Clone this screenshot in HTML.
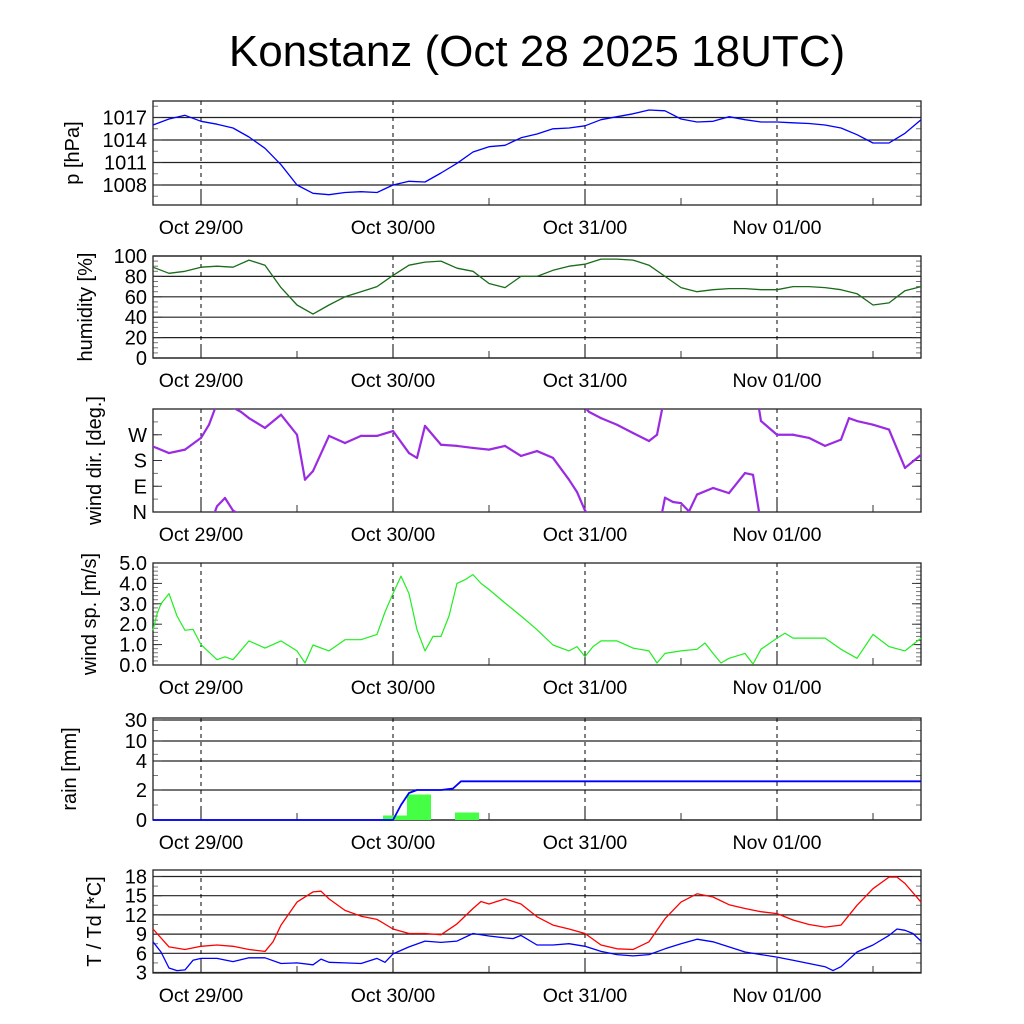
<!DOCTYPE html>
<html><head><meta charset="utf-8"><style>
body{margin:0;background:#fff;}
svg{display:block;font-family:"Liberation Sans",sans-serif;}
</style></head><body>
<svg id="chart" width="1024" height="1024" viewBox="0 0 1024 1024" xmlns="http://www.w3.org/2000/svg">
<rect width="1024" height="1024" fill="#fff"/>
<text x="537" y="66" font-size="44" text-anchor="middle">Konstanz (Oct 28 2025 18UTC)</text>
<g id="plots"></g>
</svg>
<script>
const dayLabels = ["Oct 29/00","Oct 30/00","Oct 31/00","Nov 01/00"];
const dayHours = [6,30,54,78];
const presH = [0,2,4,6,8,10,12,14,16,18,20,22,24,26,28,30,32,34,36,38,40,42,44,46,48,50,52,54,56,58,60,62,64,66,68,70,72,74,76,78,80,82,84,86,88,90,92,94,96];
const presV = [1016,1016.8,1017.3,1016.5,1016.1,1015.6,1014.4,1012.9,1010.7,1008,1006.9,1006.7,1007,1007.1,1007,1008,1008.5,1008.4,1009.6,1010.9,1012.4,1013.1,1013.3,1014.3,1014.8,1015.5,1015.6,1015.9,1016.7,1017.1,1017.5,1018,1017.9,1016.8,1016.4,1016.5,1017.1,1016.7,1016.4,1016.4,1016.3,1016.2,1016,1015.6,1014.7,1013.6,1013.6,1014.9,1016.7];
const humH = [0,2,4,6,8,10,12,14,16,18,20,22,24,26,28,30,32,34,36,38,40,42,44,46,48,50,52,54,56,58,60,62,64,66,68,70,72,74,76,78,80,82,84,86,88,90,92,94,96];
const humV = [89,83,85,89,90,89,96,91,69,52,43,52,60,65,70,81,91,94,95,88,85,73,69,80,80,86,90,92,97,97,96,91,80,69,65,67,68,68,67,67,70,70,69,67,63,52,54,66,70];
const dirH = [0,2,4,6,7,8,9,10,11,12,14,16,18,19,20,22,24,26,28,30,32,33,34,36,38,40,42,44,46,48,50,52,53,54,54.5,56,58,60,62,63,64,65,66,67,68,70,72,74,75,76,78,80,82,84,86,87,88,90,92,94,96];
const dirV = [229,206,218,259,305,20,49,5,350,328,294,340,270,113,143,266,241,266,266,283,206,189,301,235,231,224,218,231,196,213,189,113,70,5,350,328,305,276,248,270,50,35,31,2,61,84,66,136,130,318,270,270,259,231,253,328,318,305,288,154,200];
const spdH = [0,0.5,1,2,3,4,5,6,8,9,10,12,14,16,18,19,20,22,24,26,28,29,30,31,32,33,34,35,36,37,38,39,40,41,42,44,46,48,50,52,53,54,55,56,58,60,62,63,64,66,68,69,70,71,72,74,75,76,78,79,80,84,86,88,90,92,94,96];
const spdV = [1.7,2.5,3.0,3.5,2.4,1.7,1.75,1.0,0.26,0.4,0.26,1.18,0.83,1.18,0.69,0.1,0.98,0.69,1.24,1.24,1.5,2.6,3.5,4.36,3.5,1.73,0.69,1.4,1.4,2.4,4.0,4.18,4.43,4.0,3.7,3.04,2.4,1.73,0.98,0.69,0.9,0.41,0.9,1.18,1.18,0.83,0.69,0.1,0.57,0.69,0.77,1.08,0.57,0.1,0.33,0.57,0.05,0.77,1.32,1.56,1.32,1.32,0.77,0.33,1.5,0.9,0.69,1.32];
const rainCumH = [0,30,31,32,33,36,37.5,38.5,96];
const rainCumV = [0,0,1.0,1.8,2.0,2.0,2.1,2.6,2.6];
const rainBarStart = [28.75,31.75,37.75];
const rainBarV = [0.3,1.7,0.5];
const tH = [0,2,4,6,8,10,12,14,15,16,18,20,21,22,24,26,28,30,32,34,36,38,40,41,42,44,46,48,50,52,54,56,58,60,62,64,66,68,70,72,74,76,78,80,82,84,86,88,90,92,93,94,96];
const tV = [9.8,7.0,6.6,7.1,7.3,7.1,6.6,6.3,7.8,10.4,14.0,15.6,15.7,14.5,12.7,11.8,11.3,9.8,9.1,9.1,8.9,10.6,13.0,14.1,13.7,14.5,13.7,11.7,10.4,9.8,9.1,7.3,6.7,6.6,7.8,11.4,14.0,15.3,14.8,13.6,13.0,12.5,12.2,11.2,10.5,10.1,10.4,13.5,16.1,17.9,17.9,16.9,14.0];
const tdH = [0,1,2,3,4,5,6,8,10,12,14,16,18,20,21,22,24,26,28,29,30,32,34,36,38,40,42,44,45,46,48,50,52,54,56,58,60,62,64,66,68,70,72,74,76,78,80,82,84,85,86,88,90,92,93,94,95,96];
const tdV = [7.8,6.2,3.7,3.3,3.4,4.9,5.2,5.2,4.7,5.3,5.3,4.4,4.5,4.2,5.1,4.6,4.5,4.4,5.2,4.6,5.9,7.0,7.9,7.7,7.9,9.1,8.7,8.4,8.3,8.8,7.3,7.3,7.5,7.1,6.3,5.8,5.6,5.8,6.7,7.5,8.2,7.8,7.0,6.2,5.8,5.4,4.9,4.4,3.9,3.3,3.9,6.2,7.3,8.8,9.8,9.6,9.1,7.9];

const NS="http://www.w3.org/2000/svg";
const root=document.getElementById('plots');
const X0=153, X1=921, HMAX=96;
function xs(h){return X0+(X1-X0)*h/HMAX;}
function mk(tag,attrs,parent){const e=document.createElementNS(NS,tag);for(const k in attrs)e.setAttribute(k,attrs[k]);(parent||root).appendChild(e);return e;}

function panel(name,top,bot,ylab,labX,yfn,majors,majorLabels,minors,grid){
  const g=mk('g',{});
  
  
  if(grid){majors.forEach(v=>{const l=mk('line',{x1:X0,x2:X1,y1:yfn(v),y2:yfn(v),stroke:'#222','stroke-width':1.2},g);
    
    });}
  minors.forEach(v=>{const y=yfn(v);mk('line',{x1:X0,x2:X0+5,y1:y,y2:y,stroke:'#777'},g);mk('line',{x1:X1-5,x2:X1,y1:y,y2:y,stroke:'#777'},g);});
  majors.forEach((v,i)=>{const y=yfn(v);mk('line',{x1:X0,x2:X0+9,y1:y,y2:y,stroke:'#333'},g);mk('line',{x1:X1-9,x2:X1,y1:y,y2:y,stroke:'#333'},g);
    const t=mk('text',{x:147,y:y+7,'font-size':20,'text-anchor':'end'},g);t.textContent=majorLabels[i];
    
    });
  dayHours.forEach((h,i)=>{const x=xs(h);
    mk('line',{x1:x,x2:x,y1:top,y2:bot-12,stroke:'#000','stroke-dasharray':'4,4'},g);
    mk('line',{x1:x,x2:x,y1:bot-12,y2:bot,stroke:'#000'},g);
    const t=mk('text',{x:x,y:bot+29,'font-size':19.5,'text-anchor':'middle'},g);t.textContent=dayLabels[i];
    
    });
  [18,42,66,90].forEach(h=>{const x=xs(h);mk('line',{x1:x,x2:x,y1:bot-7,y2:bot,stroke:'#333'},g);});
  mk('rect',{x:X0,y:top,width:X1-X0,height:bot-top,fill:'none',stroke:'#222','stroke-width':1.3},g);
  const cy=(top+bot)/2;
  const t=mk('text',{x:labX,y:cy,'font-size':20,'text-anchor':'middle',transform:`rotate(-90 ${labX} ${cy})`},g);
  t.textContent=ylab;
  
  
  return g;
}
function line(g,H,V,yfn,color,name,w){
  const d=H.map((h,i)=>(i?'L':'M')+xs(h).toFixed(1)+','+yfn(V[i]).toFixed(1)).join('');
  const p=mk('path',{d:d,fill:'none',stroke:color,'stroke-width':w||1.3,'stroke-linejoin':'round'},g);
  
  
}
function rng(a,b,s){const r=[];for(let v=a;v<=b+1e-9;v+=s)r.push(+v.toFixed(3));return r;}

{const top=101,bot=205,y=v=>185-(v-1008)*7.5;
 const g=panel('pressure',top,bot,'p [hPa]',79,y,[1008,1011,1014,1017],['1008','1011','1014','1017'],rng(1006.5,1018.5,1.5),true);
 line(g,presH,presV,y,'#0000ff','pressure-line');}
{const top=256,bot=358,y=v=>358-v*1.02;
 const g=panel('humidity',top,bot,'humidity [%]',92,y,[0,20,40,60,80,100],['0','20','40','60','80','100'],rng(0,100,5),true);
 line(g,humH,humV,y,'#1a6b1a','humidity-line');}
{const top=409,bot=512,y=v=>512-v*103/360;
 const g=panel('wind-dir',top,bot,'wind dir. [deg.]',101,y,[0,90,180,270],['N','E','S','W'],rng(45,315,45),false);
 const cp=mk('clipPath',{id:'wdclip'},g);mk('rect',{x:X0,y:top,width:X1-X0,height:bot-top},cp);
 const wg=mk('g',{'clip-path':'url(#wdclip)'},g);
 
 
 for(let i=1;i<dirH.length;i++){
   const a=dirV[i-1],b=dirV[i],x1=xs(dirH[i-1]),x2=xs(dirH[i]);
   let segs=[[a,b]];
   if(b-a>180)segs=[[a,b-360],[a+360,b]];else if(a-b>180)segs=[[a,b+360],[a-360,b]];
   segs.forEach(s=>mk('line',{x1:x1,y1:y(s[0]),x2:x2,y2:y(s[1]),stroke:'#9a2be2','stroke-width':2.2,'stroke-linecap':'round'},wg));
 }}
{const top=563,bot=665,y=v=>665-v*20.4;
 const g=panel('wind-speed',top,bot,'wind sp. [m/s]',96,y,[0,1,2,3,4,5],['0.0','1.0','2.0','3.0','4.0','5.0'],rng(0,5,0.2),false);
 line(g,spdH,spdV,y,'#22ee22','wind-speed-line',1.2);}
{const top=718,bot=820;
 const pv=[0,2,4,10,30,40],py=[820,790,761,741,720,713];
 const y=v=>{for(let i=1;i<pv.length;i++){if(v<=pv[i])return py[i-1]+(py[i]-py[i-1])*(v-pv[i-1])/(pv[i]-pv[i-1]);}return py[py.length-1];};
 const g=panel('rain',top,bot,'rain [mm]',76,y,[0,2,4,10,30],['0','2','4','10','30'],[1,3,6,20],true);
 rainBarStart.forEach((h,i)=>{const r=mk('rect',{x:xs(h),y:y(rainBarV[i]),width:xs(h+3)-xs(h),height:bot-y(rainBarV[i]),fill:'#44ff44'},g);
   
   });
 line(g,rainCumH,rainCumV,y,'#0000ff','rain-cumulative-line',1.8);}
{const top=870,bot=973,y=v=>972.5-(v-3)*6.4;
 const g=panel('temperature',top,bot,'T / Td [*C]',101,y,[3,6,9,12,15,18],['3','6','9','12','15','18'],rng(3,19,1.5),true);
 line(g,tH,tV,y,'#ff0000','temperature-line');
 line(g,tdH,tdV,y,'#0000ff','dewpoint-line');}
</script>
</body></html>
